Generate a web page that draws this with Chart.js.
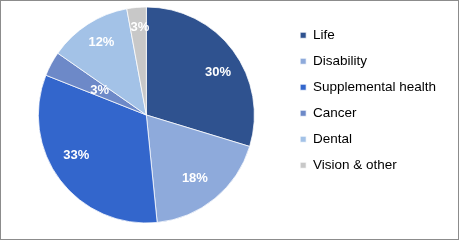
<!DOCTYPE html>
<html>
<head>
<meta charset="utf-8">
<script src="https://cdn.jsdelivr.net/npm/chart.js@4/dist/chart.umd.min.js"></script>
<style>
  html, body { margin: 0; padding: 0; background: #fff; }
  #wrap {
    width: 459px; height: 240px; box-sizing: border-box;
    border: 1px solid #8c8c8c; background: #fff;
  }
  canvas { display: block; }
</style>
</head>
<body>
<div id="wrap"><canvas id="pieChart" width="457" height="238"></canvas></div>
<script>
// slice shares (degrees / 3.6)
const categories = ['Life', 'Disability', 'Supplemental health', 'Cancer', 'Dental', 'Vision & other'];
const shares = [29.7, 18.7, 32.6, 3.7, 12.4, 2.9];
const shareLabels = ['30%', '18%', '33%', '3%', '12%', '3%'];
const sliceColors = ['#2f528f', '#8eaadb', '#3366cc', '#6d89c8', '#a3c2e7', '#c8c8c8'];

// draws the white percent labels inside the slices
const sliceLabels = {
  id: 'sliceLabels',
  afterDatasetsDraw(chart, args, opts) {
    const ctx = chart.ctx;
    const arcs = chart.getDatasetMeta(0).data;
    ctx.save();
    ctx.fillStyle = '#ffffff';
    ctx.font = 'bold 13px "Liberation Sans", Arial, sans-serif';
    ctx.textAlign = 'center';
    ctx.textBaseline = 'middle';
    arcs.forEach((arc, i) => {
      const p = arc.getProps(['x', 'y', 'startAngle', 'endAngle', 'outerRadius'], true);
      const mid = (p.startAngle + p.endAngle) / 2 + (opts.shift[i] || 0) * Math.PI / 180;
      const r = p.outerRadius * opts.radius[i];
      ctx.fillText(shareLabels[i], p.x + Math.cos(mid) * r, p.y + Math.sin(mid) * r);
    });
    ctx.restore();
  }
};

const ctx = document.getElementById('pieChart').getContext('2d');

new Chart(ctx, {
  type: 'pie',
  data: {
    labels: categories,
    datasets: [{
      data: shares,
      backgroundColor: sliceColors,
      borderColor: '#ffffff',
      borderWidth: 0.75,
      radius: 108
    }]
  },
  options: {
    responsive: false,
    animation: false,
    devicePixelRatio: 1,
    layout: {
      padding: { top: 15, bottom: 25, left: 4, right: 12 }
    },
    plugins: {
      legend: {
        display: true,
        position: 'right',
        align: 'start',
        labels: {
          color: '#000000',
          boxWidth: 6,
          boxHeight: 6,
          padding: 12.5,
          font: { family: '"Liberation Sans", Arial, sans-serif', size: 13.5 }
        }
      },
      tooltip: { enabled: false },
      sliceLabels: {
        radius: [0.77, 0.74, 0.75, 0.49, 0.79, 0.81],
        shift: [6, 2, 7, 0, 1, 1]
      }
    }
  },
  plugins: [sliceLabels]
});
</script>
</body>
</html>
